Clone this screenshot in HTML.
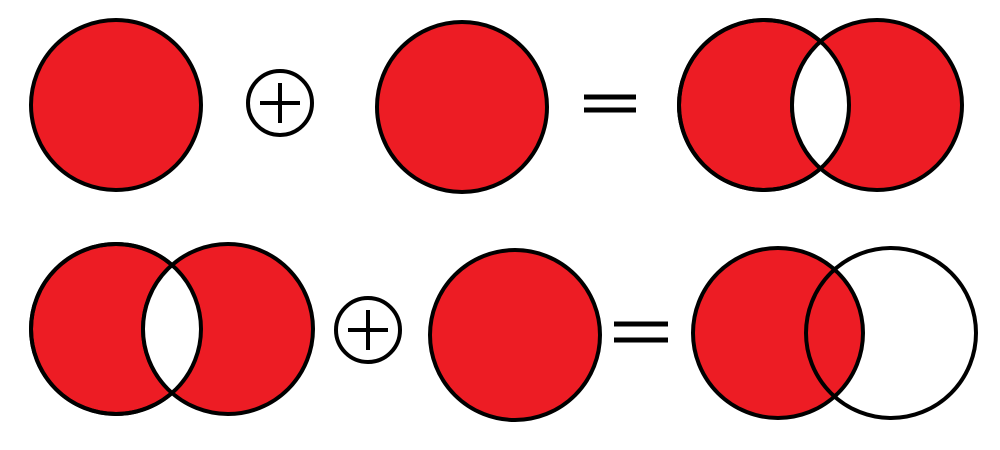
<!DOCTYPE html>
<html><head><meta charset="utf-8"><style>html,body{margin:0;padding:0;background:#fff}svg{display:block}</style></head>
<body>
<svg width="1000" height="450" viewBox="0 0 1000 450">
<defs>
<clipPath id="c1"><circle cx="764" cy="105" r="85"/></clipPath>
<clipPath id="c2"><circle cx="116" cy="329" r="85"/></clipPath>
</defs>
<g stroke="#000" stroke-width="4" fill="#ed1c24">
<circle cx="116" cy="105" r="85"/>
<circle cx="462" cy="107" r="85"/>
<g>
<circle cx="764" cy="105" r="85"/>
<circle cx="877" cy="105" r="85"/>
<circle cx="877" cy="105" r="85" fill="#fff" clip-path="url(#c1)"/>
<circle cx="764" cy="105" r="85" fill="none"/>
</g>
<g>
<circle cx="116" cy="329" r="85"/>
<circle cx="228" cy="329" r="85"/>
<circle cx="228" cy="329" r="85" fill="#fff" clip-path="url(#c2)"/>
<circle cx="116" cy="329" r="85" fill="none"/>
</g>
<circle cx="515" cy="335" r="85"/>
<g>
<circle cx="778" cy="333" r="85"/>
<circle cx="891" cy="333" r="85" fill="none"/>
</g>
</g>
<g stroke="#000" stroke-width="4" fill="#fff">
<g>
<circle cx="280" cy="103" r="32"/>
<line x1="260" y1="103" x2="300" y2="103"/>
<line x1="280" y1="83" x2="280" y2="123"/>
</g>
<g>
<circle cx="368" cy="330" r="32"/>
<line x1="348" y1="330" x2="388" y2="330"/>
<line x1="368" y1="310" x2="368" y2="350"/>
</g>
</g>
<g stroke="#000" stroke-width="5">
<g>
<line x1="584" y1="97" x2="636" y2="97"/>
<line x1="584" y1="110" x2="636" y2="110"/>
</g>
<g>
<line x1="614" y1="324" x2="668" y2="324"/>
<line x1="614" y1="340" x2="668" y2="340"/>
</g>
</g>
</svg>
</body></html>
